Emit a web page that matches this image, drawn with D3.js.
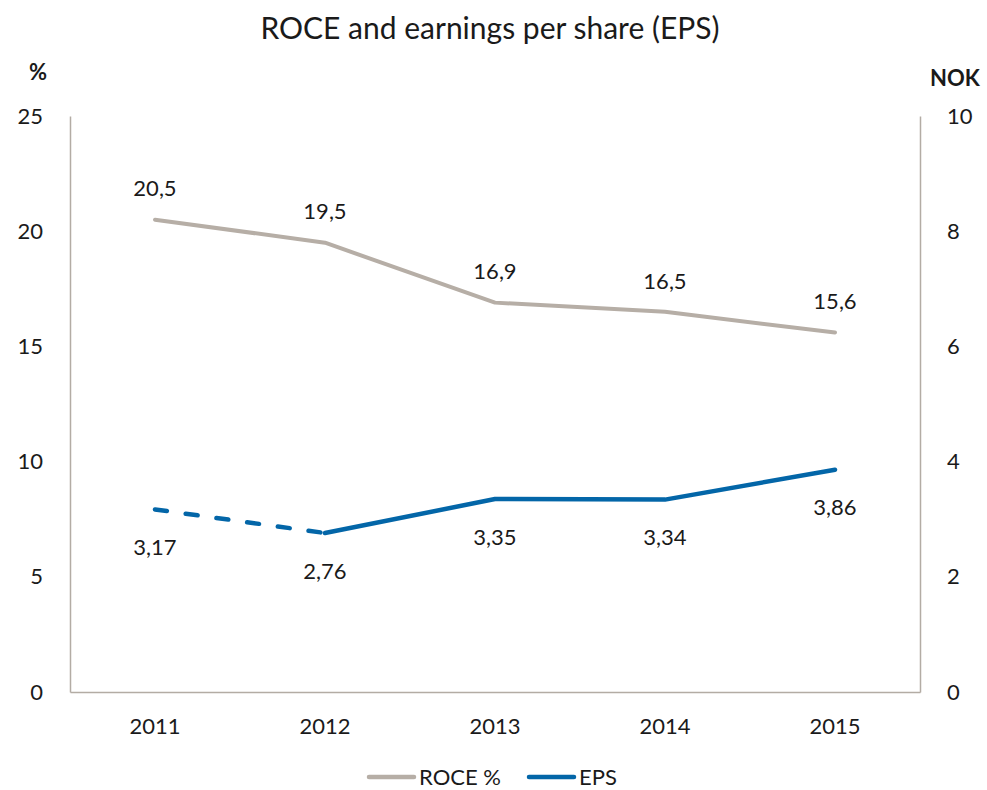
<!DOCTYPE html>
<html>
<head>
<meta charset="utf-8">
<script src="https://d3js.org/d3.v7.min.js"></script>
<style>
  body { margin: 0; background: #fff; }
  text { font-family: Lato, "Open Sans", sans-serif; fill: #1a1a1a; }
</style>
</head>
<body>
<div id="chart"></div>
<script>
// chart data
let years = ["2011", "2012", "2013", "2014", "2015"];
let roce = [20.5, 19.5, 16.9, 16.5, 15.6];
let eps = [3.17, 2.76, 3.35, 3.34, 3.86];
let leftTicks = [0, 5, 10, 15, 20, 25];
let rightTicks = [0, 2, 4, 6, 8, 10];

let svgWidth = 987, svgHeight = 790;
let margin = {top: 116, right: 67, bottom: 98, left: 70};
let width = svgWidth - margin.left - margin.right,
    height = svgHeight - margin.top - margin.bottom;

let grey = "#b6aea6", blue = "#0366a8", axisColor = "#b3aca4";
let fmt = d => String(d).replace(".", ",");

let svg = d3.select("#chart").append("svg")
    .attr("width", svgWidth)
    .attr("height", svgHeight);

let x = d3.scaleBand().domain(years).range([0, width]),
    yL = d3.scaleLinear().domain([0, 25]).range([height, 0]),
    yR = d3.scaleLinear().domain([0, 10]).range([height, 0]);

let g = svg.append("g")
    .attr("transform", "translate(" + margin.left + "," + margin.top + ")");

// title + axis units
svg.append("text")
    .attr("x", 490).attr("y", 39)
    .attr("text-anchor", "middle")
    .attr("font-size", "30px")
    .text("ROCE and earnings per share (EPS)");
svg.append("text")
    .attr("x", 38).attr("y", 80)
    .attr("text-anchor", "middle")
    .attr("font-size", "22px").attr("font-weight", "bold")
    .text("%");
svg.append("text")
    .attr("x", 955).attr("y", 86)
    .attr("text-anchor", "middle")
    .attr("font-size", "22px").attr("font-weight", "bold")
    .text("NOK");

// axes
let axL = g.append("g")
    .call(d3.axisLeft(yL).tickValues(leftTicks).tickSize(0).tickPadding(27));
let axR = g.append("g")
    .attr("transform", "translate(" + width + ",0)")
    .call(d3.axisRight(yR).tickValues(rightTicks).tickSize(0).tickPadding(27));
let axB = g.append("g")
    .attr("transform", "translate(0," + height + ")")
    .call(d3.axisBottom(x).tickSize(0).tickPadding(26));

[axL, axR, axB].forEach(a => {
    a.select(".domain").attr("stroke", axisColor).attr("stroke-width", 1.5);
    a.selectAll("text").attr("font-size", "22px").attr("fill", "#1a1a1a")
        .attr("font-family", "Lato, 'Open Sans', sans-serif");
});

let cx = d => x(d) + x.bandwidth() / 2;

// ROCE line
let roceLine = d3.line().x((d, i) => cx(years[i])).y(d => yL(d));
g.append("path")
    .datum(roce)
    .attr("d", roceLine)
    .attr("fill", "none")
    .attr("stroke", grey)
    .attr("stroke-width", 4)
    .attr("stroke-linecap", "round")
    .attr("stroke-linejoin", "round");

// EPS line: dashed first segment, solid rest
let epsLine = d3.line().x(d => cx(d.year)).y(d => yR(d.v));
let epsPts = eps.map((v, i) => ({year: years[i], v: v}));
g.append("path")
    .datum(epsPts.slice(0, 2))
    .attr("d", epsLine)
    .attr("fill", "none")
    .attr("stroke", blue)
    .attr("stroke-width", 4.5)
    .attr("stroke-linecap", "round")
    .attr("stroke-dasharray", "12,19");
g.append("path")
    .datum(epsPts.slice(1))
    .attr("d", epsLine)
    .attr("fill", "none")
    .attr("stroke", blue)
    .attr("stroke-width", 4.5)
    .attr("stroke-linecap", "round")
    .attr("stroke-linejoin", "round");

// data labels
g.selectAll(".roce-lbl")
    .data(roce)
    .enter().append("text")
    .attr("class", "roce-lbl")
    .attr("x", (d, i) => cx(years[i]))
    .attr("y", d => yL(d) - 31)
    .attr("dy", "0.35em")
    .attr("text-anchor", "middle")
    .attr("font-size", "22px")
    .text(fmt);

g.selectAll(".eps-lbl")
    .data(eps)
    .enter().append("text")
    .attr("class", "eps-lbl")
    .attr("x", (d, i) => cx(years[i]))
    .attr("y", d => yR(d) + 38)
    .attr("dy", "0.35em")
    .attr("text-anchor", "middle")
    .attr("font-size", "22px")
    .text(fmt);

// legend
let legend = svg.append("g").attr("transform", "translate(367,777)");
let items = [{name: "ROCE %", color: grey, x: 0}, {name: "EPS", color: blue, x: 160}];
items.forEach(it => {
    legend.append("line")
        .attr("x1", it.x + 2).attr("x2", it.x + 47)
        .attr("stroke", it.color).attr("stroke-width", 4.5)
        .attr("stroke-linecap", "round");
    legend.append("text")
        .attr("x", it.x + 52).attr("dy", "0.35em")
        .attr("font-size", "22px")
        .text(it.name);
});
</script>
</body>
</html>
